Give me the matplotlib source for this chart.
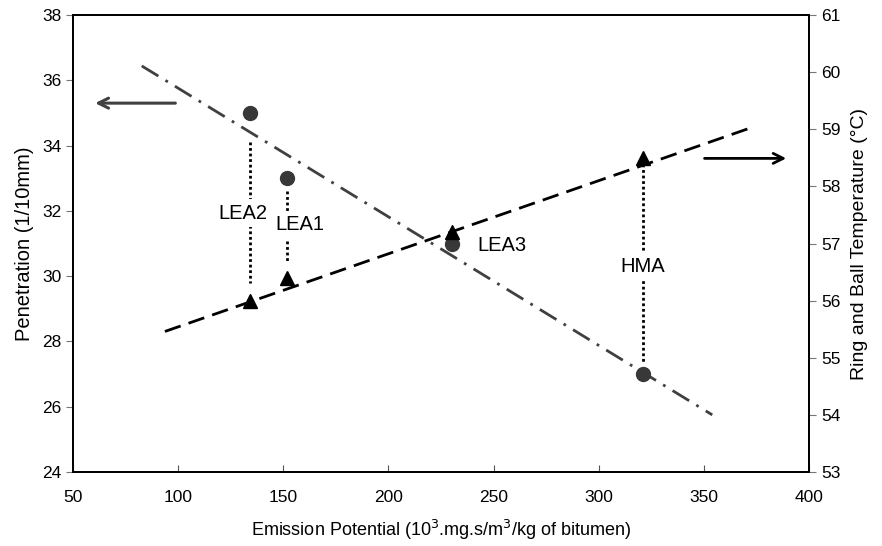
import numpy as np
import matplotlib
matplotlib.use("Agg")
import matplotlib.pyplot as plt

plt.rcParams['font.family'] = ['Liberation Sans', 'DejaVu Sans']

# Data
mixes = ["LEA2", "LEA1", "LEA3", "HMA"]
emission = [134, 152, 230, 321]
penetration = [35.0, 33.0, 31.0, 27.0]
rb_temp = [56.0, 56.4, 57.2, 58.5]

# trend lines as drawn in the original (end points)
pen_trend_x = [82.7, 354.0]
pen_trend_y = [36.44, 25.75]
temp_trend_x = [93.7, 371.9]
temp_trend_y = [55.46, 59.02]

x_ticks = [50, 100, 150, 200, 250, 300, 350, 400]
left_ticks = [24, 26, 28, 30, 32, 34, 36, 38]
right_ticks = [53, 54, 55, 56, 57, 58, 59, 60, 61]

fig = plt.figure(figsize=(8.82, 5.46), dpi=100)
ax = fig.add_axes([73/882, 1-472/546, 736/882, 457/546])
ax2 = ax.twinx()

ax.set_xlim(50, 400)
ax.set_ylim(24, 38)
ax2.set_ylim(53, 61)

ax.plot(pen_trend_x, pen_trend_y, color='#404040', lw=2.0,
        linestyle=(0, (7, 3, 1, 3)), zorder=2)
ax2.plot(temp_trend_x, temp_trend_y, color='black', lw=2.0,
         linestyle=(0, (6, 3)), zorder=2)

# markers
ax.plot(emission, penetration, 'o', color='#383838', ms=10, zorder=5)
ax2.plot(emission, rb_temp, '^', color='black', ms=10, zorder=5)

# dotted connectors (in left-axis units)
def r2l(v):
    return 24 + (v - 53) * 14 / 8

dot_style = dict(color='black', lw=2.0, linestyle=(0, (1, 1)), zorder=3)
gaps = {"LEA2": (0.9, 0.55), "LEA1": (0.38, 0.45), "HMA": (0.2, 0.35)}
for m, x, p, t in zip(mixes, emission, penetration, rb_temp):
    if m not in gaps:
        continue
    tl = r2l(t)
    g_hi, g_lo = gaps[m]
    top, bot = max(p, tl), min(p, tl)
    ax.plot([x, x], [top - g_hi, bot + g_lo], **dot_style)

label_pos = {"LEA2": (131, 31.93, 'center'), "LEA1": (158, 31.57, 'center'),
             "LEA3": (242.5, 30.95, 'left'), "HMA": (321, 30.29, 'center')}
for m in mixes:
    x, y, ha = label_pos[m]
    ax.text(x, y, m, fontsize=14.5, ha=ha, va='center', zorder=4,
            bbox=dict(facecolor='white', edgecolor='none', pad=3))

# arrows
ax.annotate('', xy=(59.2, 35.3), xytext=(100, 35.3),
            arrowprops=dict(arrowstyle='->', color='#404040', lw=2.2,
                            mutation_scale=18))
ax2.annotate('', xy=(390.5, 58.49), xytext=(349, 58.49),
             arrowprops=dict(arrowstyle='->', color='black', lw=2.0,
                             mutation_scale=18))

ax.set_xticks(x_ticks)
ax.set_yticks(left_ticks)
ax2.set_yticks(right_ticks)
ax.tick_params(axis='x', direction='in', length=5, color='#555555',
               labelsize=12.5, pad=13)
ax.tick_params(axis='y', direction='out', length=5, color='#777777',
               labelsize=12.5)
ax2.tick_params(axis='y', direction='out', length=5, color='#777777',
                labelsize=12.5)

for a in (ax, ax2):
    for s in a.spines.values():
        s.set_linewidth(1.3)
        s.set_color('black')

ax.set_xlabel('Emission Potential (10$^{3}$.mg.s/m$^{3}$/kg of bitumen)',
              fontsize=13, labelpad=9)
ax.set_ylabel('Penetration (1/10mm)', fontsize=14.5, labelpad=6)
ax2.set_ylabel('Ring and Ball Temperature (°C)', fontsize=14, labelpad=8)

fig.savefig('out.png', dpi=100)
